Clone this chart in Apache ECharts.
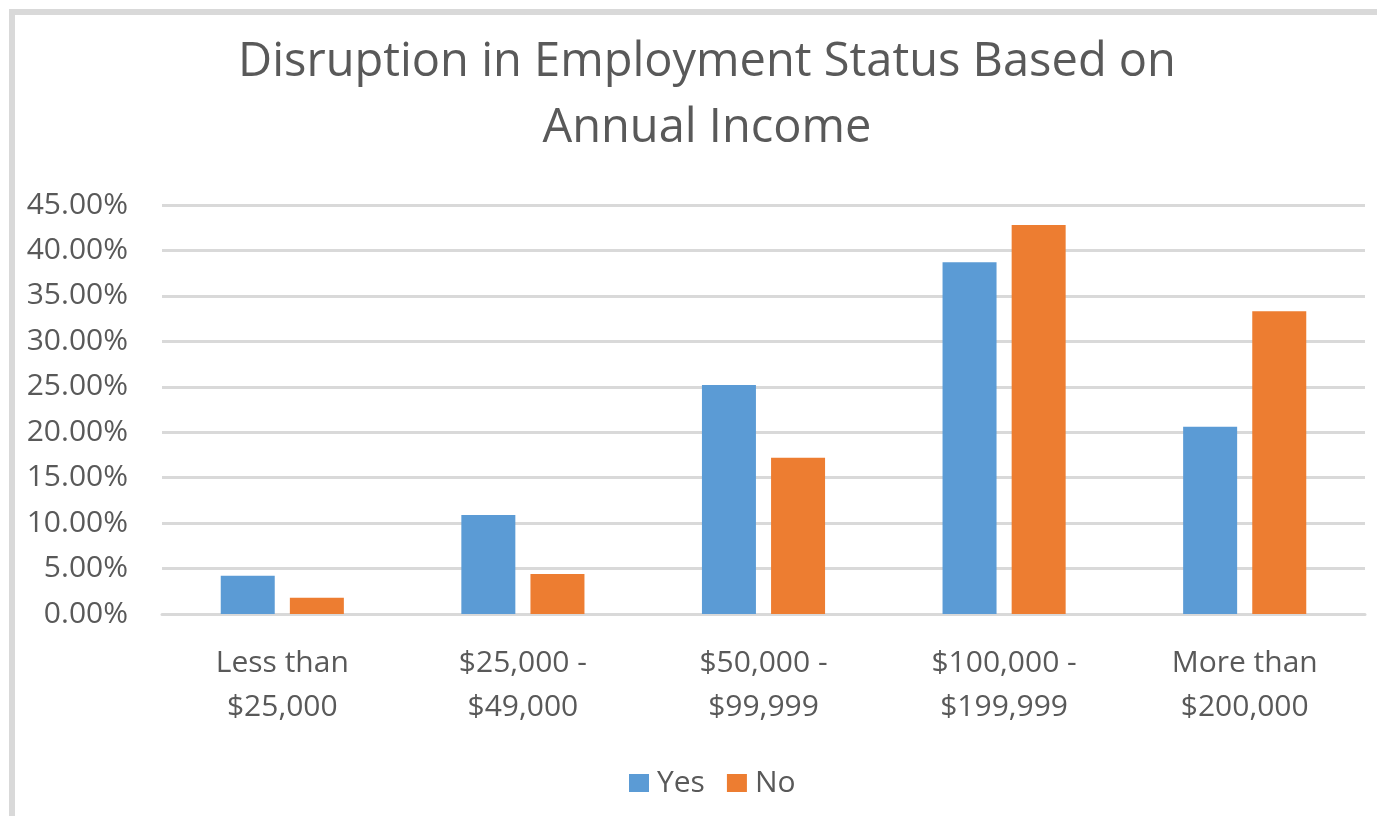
<!DOCTYPE html>
<html>
<head>
<meta charset="utf-8">
<script src="https://cdn.jsdelivr.net/npm/echarts@6/dist/echarts.min.js"></script>
<style>
  html, body { margin: 0; padding: 0; background: #ffffff; }
  #frame { position: absolute; left: 9px; top: 9px; width: 1368px; height: 807px; border-left: 6px solid #d9d9d9; border-top: 6px solid #d9d9d9; box-sizing: border-box; }
  #chart { position: absolute; left: 0; top: 0; width: 1377px; height: 816px; }
</style>
</head>
<body>
<div id="frame"></div>
<div id="chart"></div>
<script>
const categories = ['Less than\n$25,000', '$25,000 -\n$49,000', '$50,000 -\n$99,999', '$100,000 -\n$199,999', 'More than\n$200,000'];
const yesValues = [4.2, 10.9, 25.2, 38.7, 20.6];
const noValues = [1.8, 4.4, 17.2, 42.8, 33.3];
const seriesNames = ['Yes', 'No'];
const titleText = 'Disruption in Employment Status Based on\nAnnual Income';

const font = '"Open Sans", sans-serif';
const textColor = '#595959';

const chart = echarts.init(document.getElementById('chart'));
chart.setOption({
  animation: false,
  backgroundColor: 'transparent',
  title: {
    text: titleText,
    left: 702,
    top: 25,
    textAlign: 'center',
    textStyle: { fontFamily: font, fontSize: 47, fontWeight: 'normal', color: textColor, lineHeight: 66, align: 'center' }
  },
  legend: {
    data: seriesNames,
    bottom: 13,
    left: 624,
    itemWidth: 20,
    itemHeight: 18,
    itemGap: 22,
    icon: 'rect',
    textStyle: { fontFamily: font, fontSize: 30, color: textColor, padding: [0, 0, 0, 3] }
  },
  grid: { left: 162, right: 12, top: 205, bottom: 202, containLabel: false },
  xAxis: {
    type: 'category',
    data: categories,
    axisLine: { show: true, lineStyle: { color: '#d9d9d9', width: 3 } },
    axisTick: { show: false },
    axisLabel: { fontFamily: font, fontSize: 30, color: textColor, lineHeight: 44, margin: 27 }
  },
  yAxis: {
    type: 'value',
    min: 0,
    max: 45,
    interval: 5,
    axisLine: { show: false },
    axisTick: { show: false },
    splitLine: { lineStyle: { color: '#d9d9d9', width: 3 } },
    axisLabel: { fontFamily: font, fontSize: 30, color: textColor, margin: 34, formatter: v => v.toFixed(2) + '%' }
  },
  series: [
    { name: seriesNames[0], type: 'bar', data: yesValues, barWidth: 54, barGap: '28%', itemStyle: { color: '#5b9bd5' } },
    { name: seriesNames[1], type: 'bar', data: noValues, barWidth: 54, barGap: '28%', itemStyle: { color: '#ed7d31' } }
  ]
});
</script>
</body>
</html>
